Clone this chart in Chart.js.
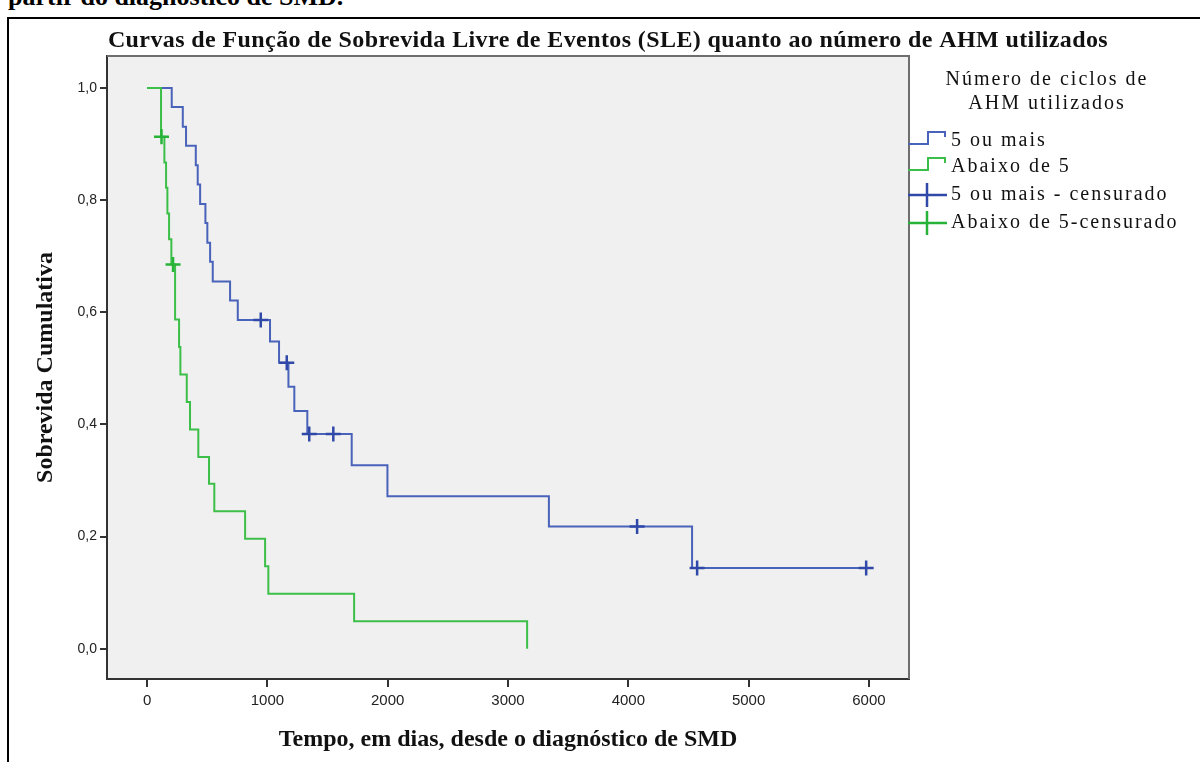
<!DOCTYPE html>
<html lang="pt">
<head>
<meta charset="utf-8">
<script src="https://cdn.jsdelivr.net/npm/chart.js@4.4.1/dist/chart.umd.min.js"></script>
<style>
  html, body { margin: 0; padding: 0; background: #fff; }
  body { width: 1200px; height: 762px; overflow: hidden; position: relative; }
  #cut { position: absolute; left: 8px; top: -16px; font: bold 26px/26px "Liberation Serif", serif; white-space: nowrap; color: #000; }
  #frame { position: absolute; left: 7px; top: 17px; right: -10px; bottom: -10px; border-left: 2px solid #000; border-top: 2px solid #000; }
  #wrap { position: absolute; left: 0; top: 0; width: 1200px; height: 762px; }
</style>
</head>
<body>
<div id="cut">partir do diagnóstico de SMD.</div>
<div id="frame"></div>
<div id="wrap"><canvas id="km"></canvas></div>
<script>
// curva "5 ou mais" (tempo em dias, sobrevida depois do evento)
const blueTimes = [0, 205, 297, 324, 405, 421, 441, 485, 501, 524, 546, 690, 754, 1022, 1097, 1175, 1224, 1332, 1701, 1998, 3340, 4530, 5977];
const blueSurv  = [1.0, 0.966, 0.931, 0.897, 0.862, 0.828, 0.793, 0.759, 0.724, 0.690, 0.655, 0.621, 0.586, 0.548, 0.510, 0.467, 0.424, 0.383, 0.327, 0.272, 0.218, 0.144, 0.144];
const blueCensTimes = [945, 1161, 1348, 1548, 4073, 4572, 5977];
const blueCensSurv  = [0.586, 0.510, 0.383, 0.383, 0.218, 0.144, 0.144];

// curva "Abaixo de 5"
const greenTimes = [0, 116, 144, 158, 169, 183, 202, 233, 266, 277, 330, 357, 426, 515, 559, 815, 981, 1008, 1721, 3159];
const greenSurv  = [1.0, 0.913, 0.867, 0.822, 0.776, 0.730, 0.685, 0.587, 0.538, 0.489, 0.440, 0.391, 0.342, 0.294, 0.245, 0.196, 0.147, 0.098, 0.049, 0.0];
const greenCensTimes = [120, 216];
const greenCensSurv  = [0.913, 0.685];

const xTicks = [0, 1000, 2000, 3000, 4000, 5000, 6000];
const yTicks = [0, 0.2, 0.4, 0.6, 0.8, 1.0];
const yTickLabels = ['0,0', '0,2', '0,4', '0,6', '0,8', '1,0'];

const chartTitle = 'Curvas de Função de Sobrevida Livre de Eventos (SLE) quanto ao número de AHM utilizados';
const legendTitle = ['Número de ciclos de', 'AHM utilizados'];
const legendLabels = ['5 ou mais', 'Abaixo de 5', '5 ou mais - censurado', 'Abaixo de 5-censurado'];

const BLUE = '#4962ba', GREEN = '#3cbf48';
const BLUE_C = '#3049a8', GREEN_C = '#27b338';

function pts(xs, ys) {
    return xs.map((x, i) => ({ x: x, y: ys[i] }));
}

const spssDecor = {
    id: 'spssDecor',
    beforeDraw(chart) {
        const { ctx, chartArea: a } = chart;
        ctx.save();
        ctx.fillStyle = '#f0f0f0';
        ctx.fillRect(a.left, a.top, a.right - a.left, a.bottom - a.top);
        ctx.restore();
    },
    afterDraw(chart) {
        const { ctx, chartArea: a } = chart;
        ctx.save();
        // moldura (topo e direita)
        ctx.strokeStyle = '#6e6e6e';
        ctx.lineWidth = 2;
        ctx.beginPath();
        ctx.moveTo(a.left, a.top);
        ctx.lineTo(a.right, a.top);
        ctx.lineTo(a.right, a.bottom);
        ctx.stroke();

        // título
        ctx.fillStyle = '#111';
        ctx.font = 'bold 24px "Liberation Serif", serif';
        ctx.letterSpacing = '0.4px';
        ctx.textAlign = 'center';
        ctx.textBaseline = 'middle';
        ctx.fillText(chartTitle, 608, 41);

        // legenda
        ctx.font = '20px "Liberation Serif", serif';
        ctx.letterSpacing = '2px';
        ctx.fillText(legendTitle[0], 1047, 80);
        ctx.fillText(legendTitle[1], 1047, 104);
        ctx.textAlign = 'left';
        const rows = [140, 166, 194, 222];
        legendLabels.forEach((lab, i) => ctx.fillText(lab, 951, rows[i] + 1));
        ctx.letterSpacing = '0px';

        ctx.lineWidth = 2;
        [[BLUE, rows[0]], [GREEN, rows[1]]].forEach(([c, y]) => {
            ctx.strokeStyle = c;
            ctx.beginPath();
            ctx.moveTo(908, y + 4);
            ctx.lineTo(928, y + 4);
            ctx.lineTo(928, y - 8);
            ctx.lineTo(945, y - 8);
            ctx.lineTo(945, y - 3);
            ctx.stroke();
        });
        ctx.lineWidth = 2.5;
        [[BLUE_C, rows[2]], [GREEN_C, rows[3]]].forEach(([c, y]) => {
            ctx.strokeStyle = c;
            ctx.beginPath();
            ctx.moveTo(908, y + 1);
            ctx.lineTo(947, y + 1);
            ctx.moveTo(927, y - 11);
            ctx.lineTo(927, y + 13);
            ctx.stroke();
        });
        ctx.restore();
    }
};

const xTickFont = { family: '"Liberation Sans", Arial, sans-serif', size: 15 };
const yTickFont = { family: '"Liberation Sans", Arial, sans-serif', size: 14 };
const axisTitleFont = { family: '"Liberation Serif", serif', size: 24, weight: 'bold' };

new Chart(document.getElementById('km'), {
    type: 'scatter',
    data: {
        datasets: [
            {
                label: legendLabels[2], data: pts(blueCensTimes, blueCensSurv), order: 0,
                showLine: false, pointStyle: 'cross', pointRadius: 7.5, pointBorderWidth: 2.5,
                borderColor: BLUE_C, backgroundColor: BLUE_C
            },
            {
                label: legendLabels[3], data: pts(greenCensTimes, greenCensSurv), order: 0,
                showLine: false, pointStyle: 'cross', pointRadius: 7.5, pointBorderWidth: 2.5,
                borderColor: GREEN_C, backgroundColor: GREEN_C
            },
            {
                label: legendLabels[1], data: pts(greenTimes, greenSurv), order: 1,
                showLine: true, stepped: 'before', pointRadius: 0, borderWidth: 2,
                borderColor: GREEN, fill: false
            },
            {
                label: legendLabels[0], data: pts(blueTimes, blueSurv), order: 2,
                showLine: true, stepped: 'before', pointRadius: 0, borderWidth: 2,
                borderColor: BLUE, fill: false
            }
        ]
    },
    options: {
        responsive: true,
        maintainAspectRatio: false,
        animation: false,
        layout: { padding: { top: 56, right: 291, left: 0, bottom: 0 } },
        plugins: {
            legend: { display: false },
            tooltip: { enabled: false }
        },
        scales: {
            x: {
                type: 'linear', min: -333, max: 6333,
                afterBuildTicks: s => { s.ticks = xTicks.map(v => ({ value: v })); },
                afterFit: s => { s.height = 83; },
                ticks: { font: xTickFont, color: '#222', padding: 5, maxRotation: 0, callback: v => String(v) },
                grid: { drawOnChartArea: false, drawTicks: true, tickLength: 8, color: '#333', lineWidth: 2 },
                border: { display: true, color: '#333', width: 2 },
                title: { display: true, text: 'Tempo, em dias, desde o diagnóstico de SMD', font: axisTitleFont, color: '#111', padding: { top: 0, bottom: 8 } }
            },
            y: {
                type: 'linear', min: -0.054, max: 1.057,
                afterBuildTicks: s => { s.ticks = yTicks.map(v => ({ value: v })); },
                afterFit: s => { s.width = 107; },
                ticks: { font: yTickFont, color: '#222', padding: 3, callback: (v, i) => yTickLabels[i] },
                grid: { drawOnChartArea: false, drawTicks: true, tickLength: 7, color: '#333', lineWidth: 2 },
                border: { display: true, color: '#333', width: 2 },
                title: { display: true, text: 'Sobrevida Cumulativa', font: axisTitleFont, color: '#111', padding: { top: 31, bottom: 0 } }
            }
        }
    },
    plugins: [spssDecor]
});
</script>
</body>
</html>
